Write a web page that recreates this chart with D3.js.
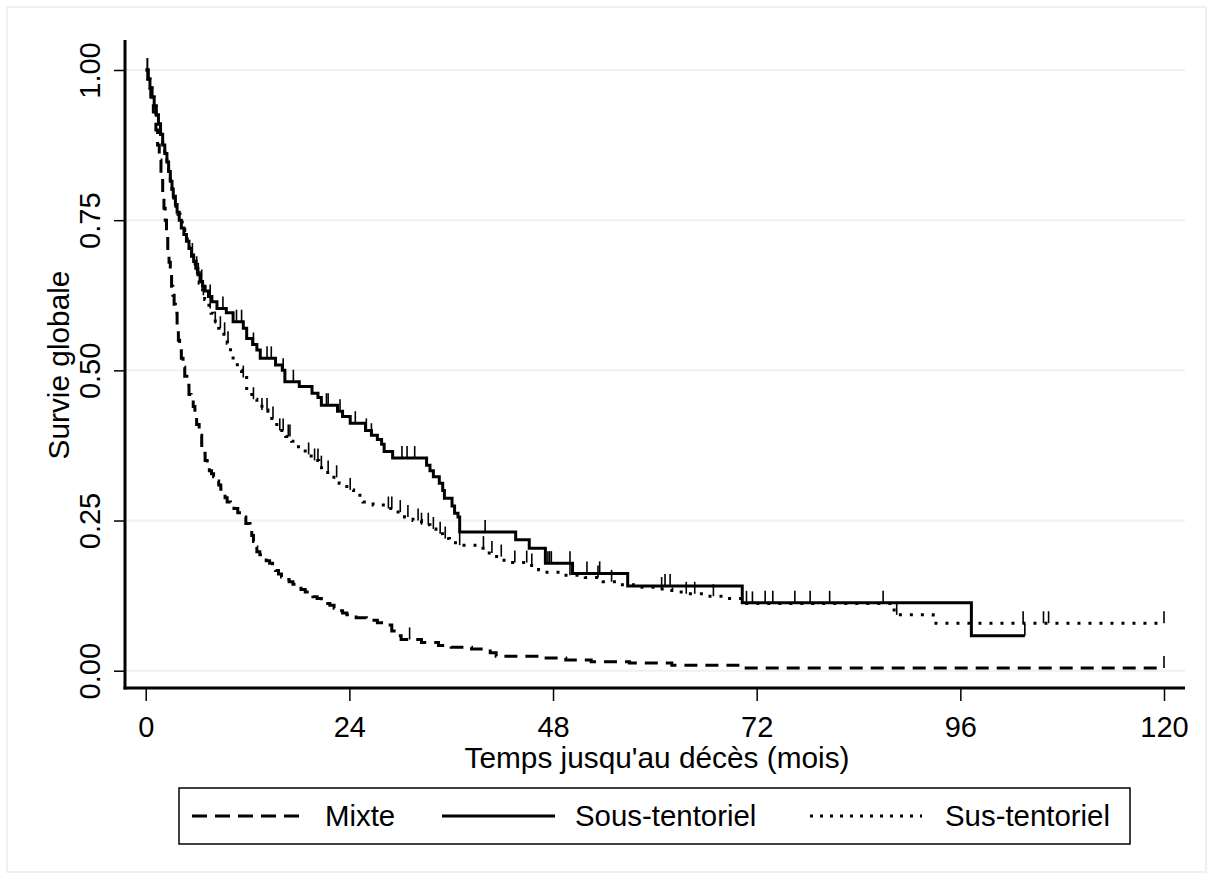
<!DOCTYPE html>
<html>
<head>
<meta charset="utf-8">
<script src="https://cdn.jsdelivr.net/npm/d3@7"></script>
<style>
  body { margin: 0; background: #fff; }
  svg text { font-family: "Liberation Sans", Arial, sans-serif; fill: #000; }
</style>
</head>
<body>
<svg id="chart" width="1213" height="879"></svg>
<script>
// Kaplan-Meier step points [months, survival]
const mixte = [[0,1],[0.3,0.98],[0.6,0.955],[0.9,0.93],[1.2,0.9],[1.4,0.875],[1.6,0.85],[1.8,0.82],[2,0.79],[2.15,0.77],[2.3,0.75],[2.45,0.725],[2.6,0.7],[2.75,0.68],[2.9,0.66],[3.05,0.64],[3.2,0.625],[3.35,0.61],[3.5,0.595],[3.7,0.57],[3.85,0.55],[4,0.535],[4.2,0.52],[4.4,0.505],[4.6,0.49],[4.85,0.475],[5.1,0.46],[5.35,0.45],[5.6,0.44],[5.8,0.425],[6,0.41],[6.3,0.392],[6.6,0.375],[6.8,0.362],[7,0.35],[7.25,0.34],[7.5,0.333],[7.75,0.328],[8,0.323],[8.3,0.316],[8.6,0.309],[8.85,0.302],[9.1,0.295],[9.35,0.288],[9.6,0.281],[10,0.275],[10.4,0.27],[10.85,0.263],[11.3,0.256],[11.8,0.245],[12.3,0.234],[12.5,0.225],[12.7,0.215],[12.9,0.206],[13.1,0.198],[13.45,0.193],[13.8,0.188],[14.2,0.183],[14.6,0.179],[14.95,0.173],[15.3,0.167],[15.65,0.161],[16,0.156],[16.45,0.152],[16.9,0.148],[17.35,0.144],[17.8,0.14],[18.3,0.135],[18.8,0.131],[19.25,0.127],[19.7,0.123],[20.2,0.12],[20.7,0.116],[21.2,0.112],[21.7,0.109],[22.2,0.104],[22.7,0.1],[23.2,0.096],[23.7,0.093],[24.8,0.088],[26,0.084],[27.3,0.08],[28.4,0.076],[29,0.066],[29.6,0.058],[30.1,0.052],[32.5,0.047],[34.5,0.042],[36,0.039],[38.4,0.036],[40.6,0.03],[41.3,0.024],[46.5,0.021],[49.5,0.018],[52.5,0.015],[57,0.013],[62,0.009],[70.2,0.0045]];
const mixteEnd = 120;
const mixteCens = [31.1, 120];

const sous = [[0,1],[0.25,0.985],[0.5,0.97],[0.75,0.955],[1,0.94],[1.25,0.925],[1.5,0.91],[1.75,0.893],[2,0.875],[2.25,0.861],[2.5,0.847],[2.7,0.831],[2.9,0.815],[3.1,0.802],[3.25,0.79],[3.5,0.776],[3.7,0.763],[3.95,0.75],[4.2,0.737],[4.5,0.726],[4.8,0.715],[5.1,0.703],[5.4,0.692],[5.65,0.681],[5.9,0.67],[6.15,0.659],[6.4,0.648],[6.7,0.64],[7,0.632],[7.4,0.623],[7.8,0.614],[8.4,0.603],[9.5,0.596],[10.3,0.581],[11.5,0.57],[11.9,0.553],[12.6,0.543],[13.1,0.534],[13.5,0.52],[15.3,0.509],[16.1,0.5],[16.4,0.481],[18.1,0.473],[19.6,0.462],[20.3,0.455],[20.7,0.442],[22.6,0.432],[23.2,0.423],[24.1,0.412],[25.9,0.4],[26.6,0.392],[27.3,0.385],[27.8,0.377],[28.1,0.365],[29.1,0.354],[33.1,0.342],[33.5,0.333],[33.9,0.323],[34.6,0.312],[35,0.3],[35.2,0.287],[36.1,0.274],[36.4,0.262],[36.8,0.256],[37,0.231],[43.6,0.218],[45.2,0.204],[47.1,0.179],[50.3,0.162],[56.8,0.141],[70.3,0.113],[97.3,0.058]];
const sousEnd = 103.6;
const sousCens = [0.2,5.5,6.0,6.2,6.6,7.6,9.1,10.7,11.3,12.7,14.3,14.8,16.2,17.4,21.3,21.5,22.9,24.7,26,26.6,30.2,30.8,31.7,40,47.4,47.6,47.8,50,52,53.5,61.2,61.8,70.8,73,73.9,76.5,78.3,80.6,86.9,103.6];

const sus = [[0,1],[0.25,0.985],[0.5,0.97],[0.75,0.955],[1,0.94],[1.25,0.925],[1.5,0.91],[1.75,0.893],[2,0.875],[2.25,0.861],[2.5,0.847],[2.7,0.831],[2.9,0.815],[3.1,0.801],[3.3,0.787],[3.55,0.773],[3.8,0.76],[4.05,0.747],[4.3,0.735],[4.6,0.722],[4.9,0.71],[5.15,0.7],[5.4,0.69],[5.65,0.677],[5.9,0.665],[6.1,0.655],[6.3,0.645],[6.5,0.635],[6.7,0.625],[6.95,0.618],[7.2,0.612],[7.45,0.603],[7.7,0.595],[7.95,0.586],[8.2,0.578],[8.6,0.57],[9,0.56],[9.6,0.545],[10,0.53],[10.3,0.517],[10.8,0.5],[11.3,0.488],[11.9,0.467],[12.5,0.452],[13.1,0.445],[13.7,0.434],[14.4,0.42],[15.1,0.41],[15.8,0.4],[16.5,0.39],[17.2,0.382],[18,0.37],[18.8,0.36],[19.5,0.35],[20.4,0.338],[21.2,0.33],[22,0.322],[22.8,0.312],[23.7,0.301],[24.5,0.292],[25.6,0.281],[26.8,0.276],[28,0.27],[29.5,0.264],[30.5,0.256],[31.5,0.25],[32.5,0.243],[33.5,0.236],[34.2,0.228],[35,0.22],[35.8,0.213],[37,0.209],[38.8,0.204],[40,0.196],[40.9,0.19],[42,0.184],[43,0.18],[45.3,0.175],[46.3,0.168],[46.9,0.164],[49.2,0.159],[51.8,0.155],[53.9,0.148],[55.5,0.143],[58,0.139],[60,0.136],[62,0.131],[63.5,0.128],[66,0.124],[68,0.12],[70.4,0.112],[88.2,0.093],[92.8,0.079]];
const susEnd = 120;
const susCens = [0.2,6.0,6.4,6.8,7.6,8.2,8.8,9.3,9.7,11.5,12.7,13.7,14.3,15,15.8,16.2,16.8,17,19.2,19.9,20.3,20.7,21.5,22.5,24.1,28.6,29,30,30.9,32.1,32.5,33.3,33.9,34.7,35.3,37,39.8,40.8,41.9,43.5,44.9,45.5,50,53.3,54.9,60.8,63.7,64.7,66.9,71.5,88.5,103.4,105.8,106.4,120];

const xTicks = [0, 24, 48, 72, 96, 120];
const yTicks = [0, 0.25, 0.5, 0.75, 1];
const groups = ["Mixte", "Sous-tentoriel", "Sus-tentoriel"];

const svg = d3.select('#chart');
const FS = 29;

// faint outer frame
svg.append('rect')
    .attr('x', 7).attr('y', 7)
    .attr('width', 1199).attr('height', 865)
    .attr('fill', '#fff')
    .attr('stroke', '#e6edf1')
    .attr('stroke-width', 1.5);

const x = d3.scaleLinear().domain([0, 120]).range([145.7, 1164]);
const y = d3.scaleLinear().domain([0, 1]).range([670.7, 70]);
const plotL = 125, plotR = 1185, plotT = 40, plotB = 688;

// gridlines
svg.append('g')
    .selectAll('line')
    .data(yTicks)
    .enter()
    .append('line')
    .attr('x1', plotL).attr('x2', plotR)
    .attr('y1', d => y(d)).attr('y2', d => y(d))
    .attr('stroke', '#eaf2f3')
    .attr('stroke-width', 2);

// y axis
const yAxis = svg.append('g')
    .attr('transform', `translate(${plotL},0)`)
    .call(d3.axisLeft(y).tickValues(yTicks).tickFormat(d3.format('.2f')).tickSize(11));
yAxis.select('.domain').remove();
yAxis.selectAll('.tick line').attr('stroke', '#000').attr('stroke-width', 1.5);
yAxis.selectAll('.tick text')
    .attr('font-size', FS)
    .attr('x', 0).attr('y', 0).attr('dy', null)
    .attr('text-anchor', 'middle')
    .attr('fill', '#000')
    .attr('transform', 'translate(-25,0) rotate(-90)');

// x axis
const xAxis = svg.append('g')
    .attr('transform', `translate(0,${plotB})`)
    .call(d3.axisBottom(x).tickValues(xTicks).tickSize(13));
xAxis.select('.domain').remove();
xAxis.selectAll('.tick line').attr('stroke', '#000').attr('stroke-width', 1.5);
xAxis.selectAll('.tick text')
    .attr('font-size', FS)
    .attr('fill', '#000')
    .attr('y', 49).attr('dy', null);

// axis lines
svg.append('line')
    .attr('x1', plotL).attr('x2', plotL).attr('y1', plotT).attr('y2', plotB + 1.5)
    .attr('stroke', '#000').attr('stroke-width', 3);
svg.append('line')
    .attr('x1', plotL - 1.5).attr('x2', plotR).attr('y1', plotB).attr('y2', plotB)
    .attr('stroke', '#000').attr('stroke-width', 3);

// axis titles
svg.append('text')
    .attr('x', 657).attr('y', 768)
    .attr('text-anchor', 'middle')
    .attr('font-size', 29.8)
    .text("Temps jusqu'au décès (mois)");

svg.append('text')
    .attr('transform', 'translate(69,365) rotate(-90)')
    .attr('text-anchor', 'middle')
    .attr('font-size', 29.8)
    .text('Survie globale');

// curves
const series = [
    {name: groups[0], pts: mixte, end: mixteEnd, cens: mixteCens, dash: '13,8'},
    {name: groups[1], pts: sous, end: sousEnd, cens: sousCens, dash: null},
    {name: groups[2], pts: sus, end: susEnd, cens: susCens, dash: '3,8'}
];

const line = d3.line()
    .x(d => x(d[0]))
    .y(d => y(d[1]))
    .curve(d3.curveStepAfter);

function survAt(pts, t) {
    let s = 1;
    for (const p of pts) { if (p[0] <= t) s = p[1]; }
    return s;
}

series.forEach(sr => {
    const data = sr.pts.concat([[sr.end, sr.pts[sr.pts.length - 1][1]]]);
    svg.append('path')
        .datum(data)
        .attr('d', line)
        .attr('fill', 'none')
        .attr('stroke', '#000')
        .attr('stroke-width', 3)
        .attr('stroke-dasharray', sr.dash);

    svg.append('g')
        .selectAll('line')
        .data(sr.cens)
        .enter()
        .append('line')
        .attr('x1', d => x(d)).attr('x2', d => x(d))
        .attr('y1', d => y(survAt(sr.pts, d)))
        .attr('y2', d => y(survAt(sr.pts, d)) - 12)
        .attr('stroke', '#000')
        .attr('stroke-width', 1.6);
});

// legend
const lg = svg.append('g');
lg.append('rect')
    .attr('x', 179).attr('y', 788)
    .attr('width', 951).attr('height', 56)
    .attr('fill', '#fff')
    .attr('stroke', '#000')
    .attr('stroke-width', 1.5);

const legendItems = [
    {name: groups[0], x0: 192, x1: 307, tx: 325, dash: '15,8'},
    {name: groups[1], x0: 442, x1: 555, tx: 575, dash: null},
    {name: groups[2], x0: 810, x1: 922, tx: 945, dash: '3,7'}
];
legendItems.forEach(it => {
    lg.append('line')
        .attr('x1', it.x0).attr('x2', it.x1)
        .attr('y1', 816).attr('y2', 816)
        .attr('stroke', '#000')
        .attr('stroke-width', 3)
        .attr('stroke-dasharray', it.dash);
    lg.append('text')
        .attr('x', it.tx).attr('y', 826)
        .attr('font-size', 29.4)
        .text(it.name);
});
</script>
</body>
</html>
